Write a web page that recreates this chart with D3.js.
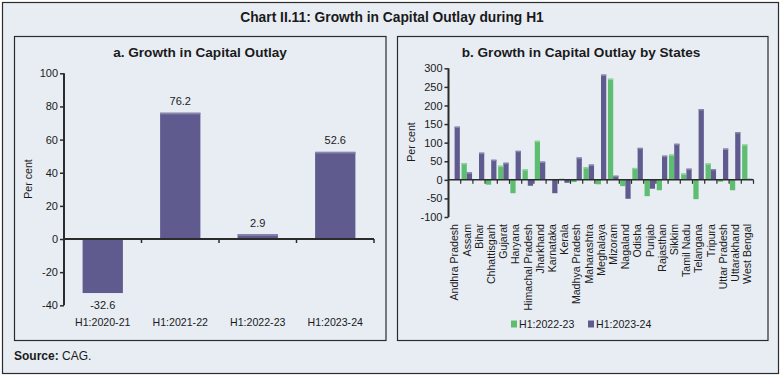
<!DOCTYPE html>
<html><head><meta charset="utf-8">
<script src="https://cdn.jsdelivr.net/npm/d3@7"></script>
<style>
html,body{margin:0;padding:0;background:#fff;}
svg text{font-family:"Liberation Sans",Arial,sans-serif;fill:#1a1a1a;}
</style></head>
<body>
<svg id="c" width="782" height="377"></svg>
<script>
// ---- data ----
const periods = ["H1:2020-21","H1:2021-22","H1:2022-23","H1:2023-24"];
const growth = [-32.6, 76.2, 2.9, 52.6];
const yTicksA = [-40,-20,0,20,40,60,80,100];

const states = ["Andhra Pradesh","Assam","Bihar","Chhattisgarh","Gujarat","Haryana","Himachal Pradesh","Jharkhand","Karnataka","Kerala","Madhya Pradesh","Maharashtra","Meghalaya","Mizoram","Nagaland","Odisha","Punjab","Rajasthan","Sikkim","Tamil Nadu","Telangana","Tripura","Uttar Pradesh","Uttarakhand","West Bengal"];
const seriesNames = ["H1:2022-23","H1:2023-24"];
const h2223 = [0, 45, 0, -13, 38, -36, 28, 105, 0, 3, -6, 34, -12, 272, -17, 32, -44, -28, 68, 17, -52, 44, -5, -28, 95];
const h2324 = [143, 20, 73, 54, 46, 78, -16, 49, -36, -8, 60, 41, 283, 11, -51, 86, -24, 65, 97, 30, 190, 29, 84, 128, 3];
const yTicksB = [-100,-50,0,50,100,150,200,250,300];

const colors = {"H1:2022-23":"#5dbd70","H1:2023-24":"#605b8e"};
const barA = "#605b8e";
const bg = "#e8edf4";
const ink = "#2b2b2b";

const svg = d3.select("#c");
svg.append("rect").attr("x",0).attr("y",0).attr("width",782).attr("height",377).attr("fill","#fff");
svg.append("rect").attr("x",2.5).attr("y",2.5).attr("width",776).attr("height",371)
  .attr("fill",bg).attr("stroke",ink).attr("stroke-width",1.2);
svg.append("text").attr("x",392).attr("y",22).attr("text-anchor","middle")
  .attr("font-size",13.8).attr("font-weight","bold").text("Chart II.11: Growth in Capital Outlay during H1");

// panels
svg.append("rect").attr("x",14.5).attr("y",36.5).attr("width",371.5).attr("height",304)
  .attr("fill",bg).attr("stroke",ink).attr("stroke-width",1.2);
svg.append("rect").attr("x",397.5).attr("y",36.5).attr("width",370.5).attr("height",304)
  .attr("fill",bg).attr("stroke",ink).attr("stroke-width",1.2);

// source
const src = svg.append("text").attr("x",14).attr("y",360).attr("font-size",12);
src.append("tspan").attr("font-weight","bold").text("Source:");
src.append("tspan").text(" CAG.");

const fmt = d => String(d);

// ---------- Panel a ----------
const ga = svg.append("g");
ga.append("text").attr("x",200).attr("y",56.5).attr("text-anchor","middle")
  .attr("font-size",13.6).attr("font-weight","bold").text("a. Growth in Capital Outlay");

const ya = d3.scaleLinear().domain([-40,100]).range([305.3,73.3]);
const xa = d3.scaleBand().domain(periods).range([64,374]).paddingInner(0.48).paddingOuter(0.24);

ga.selectAll("rect.bar").data(periods).join("rect").attr("class","bar")
  .attr("x",d=>xa(d)).attr("width",xa.bandwidth())
  .attr("y",(d,i)=>ya(Math.max(0,growth[i])))
  .attr("height",(d,i)=>Math.abs(ya(growth[i])-ya(0)))
  .attr("fill",barA);
ga.selectAll("rect.cap").data(periods.filter((d,i)=>growth[i]>0)).join("rect").attr("class","cap")
  .attr("x",d=>xa(d)).attr("width",xa.bandwidth())
  .attr("y",d=>ya(growth[periods.indexOf(d)])).attr("height",1.6)
  .attr("fill","#8a86ad");

ga.selectAll("text.val").data(periods).join("text").attr("class","val")
  .attr("x",d=>xa(d)+xa.bandwidth()/2)
  .attr("y",(d,i)=>growth[i]>=0 ? ya(growth[i])-7.5 : ya(growth[i])+16)
  .attr("text-anchor","middle").attr("font-size",11)
  .text((d,i)=>growth[i].toFixed(1));

// y axis a
const axA = ga.append("g").attr("transform",`translate(${xa.range()[0]},0)`)
  .call(d3.axisLeft(ya).tickValues(yTicksA).tickSize(4).tickPadding(2).tickFormat(fmt));
axA.select(".domain").attr("stroke",ink).attr("stroke-width",2).attr("d",`M0,${ya(100)}V${ya(-40)}`);
axA.selectAll(".tick line").attr("stroke",ink).attr("stroke-width",1.5);
axA.selectAll(".tick text").attr("font-size",11).attr("fill","#1a1a1a");
axA.attr("font-family",null);

// x axis a (zero line with ticks at band boundaries)
const stepA = xa.step();
const x0A = xa.range()[0];
ga.append("line").attr("x1",x0A).attr("x2",xa.range()[1]).attr("y1",ya(0)).attr("y2",ya(0))
  .attr("stroke",ink).attr("stroke-width",2);
ga.selectAll("line.xt").data(d3.range(1,periods.length+1)).join("line").attr("class","xt")
  .attr("x1",i=>x0A+i*stepA).attr("x2",i=>x0A+i*stepA)
  .attr("y1",ya(0)).attr("y2",ya(0)+4).attr("stroke",ink).attr("stroke-width",1.5);
ga.selectAll("text.cat").data(periods).join("text").attr("class","cat")
  .attr("x",d=>xa(d)+xa.bandwidth()/2).attr("y",325.5)
  .attr("text-anchor","middle").attr("font-size",10.6).text(d=>d);

ga.append("text").attr("transform","translate(32,179) rotate(-90)")
  .attr("text-anchor","middle").attr("font-size",10.6).text("Per cent");

// ---------- Panel b ----------
const gb = svg.append("g");
gb.append("text").attr("x",581).attr("y",56.5).attr("text-anchor","middle")
  .attr("font-size",13.6).attr("font-weight","bold").text("b. Growth in Capital Outlay by States");

const yb = d3.scaleLinear().domain([-100,300]).range([217,68.3]);
const xb = d3.scaleBand().domain(states).range([448.5,753.5]).paddingInner(0.14).paddingOuter(0.07);
const x1 = d3.scaleBand().domain(seriesNames).range([0,xb.bandwidth()]);
const seriesVals = {"H1:2022-23":h2223,"H1:2023-24":h2324};

const rows = [];
states.forEach((s,i)=>seriesNames.forEach(n=>rows.push({s,n,v:seriesVals[n][i]})));

gb.selectAll("rect.bar").data(rows).join("rect").attr("class","bar")
  .attr("x",d=>xb(d.s)+x1(d.n)).attr("width",x1.bandwidth())
  .attr("y",d=>yb(Math.max(0,d.v))).attr("height",d=>Math.abs(yb(d.v)-yb(0)))
  .attr("fill",d=>colors[d.n]);
gb.selectAll("rect.cap").data(rows.filter(d=>d.v>3)).join("rect").attr("class","cap")
  .attr("x",d=>xb(d.s)+x1(d.n)).attr("width",x1.bandwidth())
  .attr("y",d=>yb(d.v)).attr("height",1.4)
  .attr("fill",d=>d.n==="H1:2022-23"?"#8fd39c":"#8a86ad");

const axB = gb.append("g").attr("transform",`translate(${xb.range()[0]},0)`)
  .call(d3.axisLeft(yb).tickValues(yTicksB).tickSize(4).tickPadding(2).tickFormat(fmt));
axB.select(".domain").attr("stroke",ink).attr("stroke-width",2).attr("d",`M0,${yb(300)}V${yb(-100)}`);
axB.selectAll(".tick line").attr("stroke",ink).attr("stroke-width",1.5);
axB.selectAll(".tick text").attr("font-size",11).attr("fill","#1a1a1a");
axB.attr("font-family",null);

const stepB = xb.step();
const x0B = xb.range()[0];
gb.append("line").attr("x1",x0B).attr("x2",xb.range()[1]).attr("y1",yb(0)).attr("y2",yb(0))
  .attr("stroke",ink).attr("stroke-width",1.5);
gb.selectAll("line.xt").data(d3.range(1,states.length+1)).join("line").attr("class","xt")
  .attr("x1",i=>x0B+i*stepB).attr("x2",i=>x0B+i*stepB)
  .attr("y1",yb(0)).attr("y2",yb(0)+4).attr("stroke",ink).attr("stroke-width",1.2);

gb.selectAll("text.st").data(states).join("text").attr("class","st")
  .attr("transform",d=>`translate(${xb(d)+xb.bandwidth()/2},224) rotate(-90)`)
  .attr("dy","0.35em").attr("text-anchor","end").attr("font-size",10.6).text(d=>d);

gb.append("text").attr("transform","translate(415,142) rotate(-90)")
  .attr("text-anchor","middle").attr("font-size",10.6).text("Per cent");

// legend
const legX = [511, 588];
const lg = gb.selectAll("g.leg").data(seriesNames).join("g").attr("class","leg")
  .attr("transform",(d,i)=>`translate(${legX[i]},324)`);
lg.append("rect").attr("x",0).attr("y",-3.5).attr("width",6).attr("height",7).attr("fill",d=>colors[d]);
lg.append("text").attr("x",8).attr("y",0).attr("dy","0.35em").attr("font-size",10.6).text(d=>d);
</script>
</body></html>
